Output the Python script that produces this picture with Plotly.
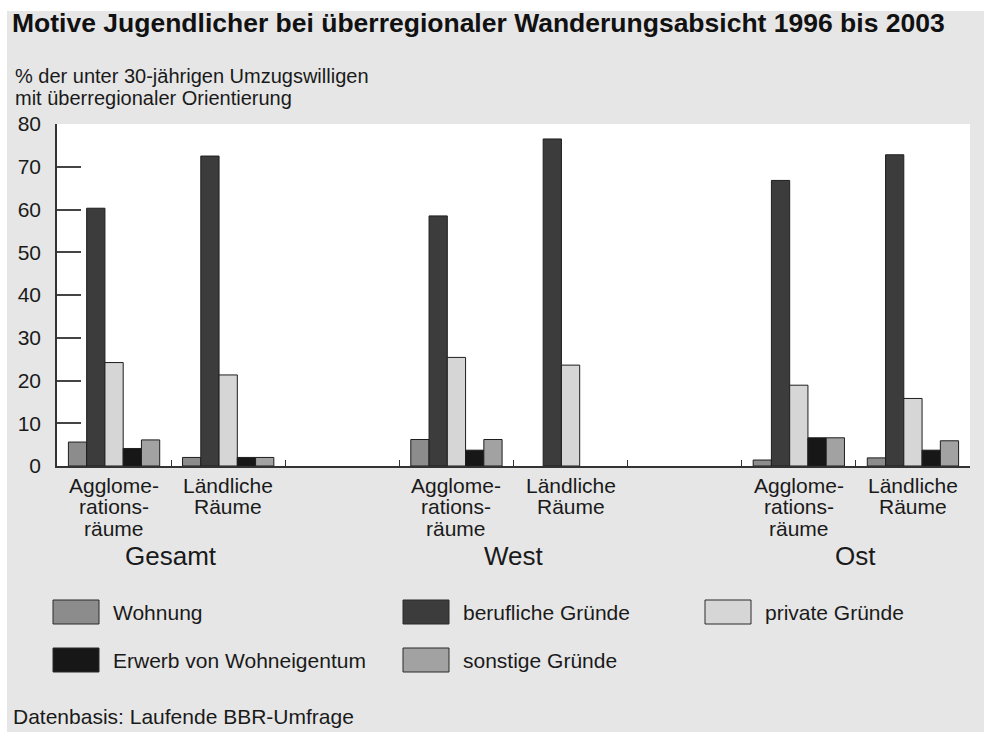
import plotly.graph_objects as go

# ---- data ----
positions = [0, 1, 3, 4, 6, 7]  # category slots (2 and 5 are empty gaps)
category_lines = [["Agglome-", "rations-", "räume"], ["Ländliche", "Räume"],
                  ["Agglome-", "rations-", "räume"], ["Ländliche", "Räume"],
                  ["Agglome-", "rations-", "räume"], ["Ländliche", "Räume"]]
group_labels = ["Gesamt", "West", "Ost"]
group_centers = [0.5, 3.5, 6.5]

series_names = ["Wohnung", "berufliche Gründe", "private Gründe",
                "Erwerb von Wohneigentum", "sonstige Gründe"]
wohnung = [5.6, 2.0, 6.2, None, 1.4, 1.9]
beruflich = [60.3, 72.5, 58.5, 76.5, 66.8, 72.8]
privat = [24.2, 21.3, 25.4, 23.6, 18.9, 15.8]
erwerb = [4.1, 2.0, 3.7, None, 6.6, 3.7]
sonstige = [6.1, 2.0, 6.2, None, 6.6, 5.9]
series_values = [wohnung, beruflich, privat, erwerb, sonstige]
colors = ["#8c8c8c", "#3c3c3c", "#d6d6d6", "#171717", "#a2a2a2"]

yticks = [0, 10, 20, 30, 40, 50, 60, 70, 80]
title_text = "Motive Jugendlicher bei überregionaler Wanderungsabsicht 1996 bis 2003"
axis_title_lines = ["% der unter 30-jährigen Umzugswilligen", "mit überregionaler Orientierung"]
source_text = "Datenbasis: Laufende BBR-Umfrage"

# ---- layout geometry (page pixels) ----
W, H = 984, 732
L, R, T, B = 57, 970, 124, 466
FONT = "Liberation Sans, Arial, sans-serif"
TXT = "#1a1a1a"


def px(x):
    return (x - L) / (R - L)


def py(y):
    return (B - y) / (B - T)


fig = go.Figure()
for name, vals, col in zip(series_names, series_values, colors):
    fig.add_trace(go.Bar(
        x=positions, y=vals, name=name,
        marker=dict(color=col, line=dict(color="#1e1e1e", width=1)),
        showlegend=False, hoverinfo="skip",
    ))

annotations = []
# category labels (one annotation per line for tight line spacing)
for pos, lines in zip(positions, category_lines):
    for i, line in enumerate(lines):
        annotations.append(dict(x=pos, y=py(485 + 21.5 * i), xref="x", yref="paper",
                                text=line, showarrow=False, yanchor="middle",
                                font=dict(size=21, color=TXT, family=FONT)))
# group labels
for c, lab in zip(group_centers, group_labels):
    annotations.append(dict(x=c, y=py(556), xref="x", yref="paper", text=lab,
                            showarrow=False, yanchor="middle",
                            font=dict(size=26, color=TXT, family=FONT)))
# title
annotations.append(dict(x=px(10), y=py(23), xref="paper", yref="paper",
                        text="<b>" + title_text + "</b>",
                        showarrow=False, xanchor="left", yanchor="middle",
                        font=dict(size=26.5, color="#111", family=FONT)))
# axis title
for i, line in enumerate(axis_title_lines):
    annotations.append(dict(x=px(13), y=py(76 + 21.5 * i), xref="paper", yref="paper",
                            text=line, showarrow=False, xanchor="left", yanchor="middle",
                            font=dict(size=20, color=TXT, family=FONT)))
# source
annotations.append(dict(x=px(11), y=py(716), xref="paper", yref="paper",
                        text=source_text,
                        showarrow=False, xanchor="left", yanchor="middle",
                        font=dict(size=21, color=TXT, family=FONT)))

# legend (custom)
legend_items = [(53, 612, 0), (403, 612, 1), (705, 612, 2), (53, 660, 3), (403, 660, 4)]
shapes = []
for x0, yc, idx in legend_items:
    shapes.append(dict(type="rect", xref="paper", yref="paper",
                       x0=px(x0), x1=px(x0 + 46), y0=py(yc - 12), y1=py(yc + 12),
                       fillcolor=colors[idx], line=dict(color="#2a2a2a", width=1)))
    annotations.append(dict(x=px(x0 + 58), y=py(yc), xref="paper", yref="paper",
                            text=series_names[idx], showarrow=False,
                            xanchor="left", yanchor="middle",
                            font=dict(size=21, color=TXT, family=FONT)))

# thin white frame on the top and left edges of the picture
shapes.append(dict(type="rect", xref="paper", yref="paper", layer="above",
                   x0=px(0), x1=px(W), y0=py(0), y1=py(11),
                   fillcolor="#ffffff", line=dict(width=0)))
shapes.append(dict(type="rect", xref="paper", yref="paper", layer="above",
                   x0=px(0), x1=px(7), y0=py(0), y1=py(H),
                   fillcolor="#ffffff", line=dict(width=0)))

fig.update_layout(
    width=W, height=H,
    margin=dict(l=L, r=W - R, t=T, b=H - B),
    paper_bgcolor="#e6e6e6", plot_bgcolor="#ffffff",
    barmode="group", bargap=0.2, bargroupgap=0,
    font=dict(family=FONT, color=TXT),
    xaxis=dict(range=[-0.5, 7.5], tickvals=[0.5, 1.5, 2.5, 3.5, 4.5, 5.5, 6.5, 7.5],
               ticktext=[""] * 8, ticks="inside", ticklen=6, tickcolor="#333",
               showline=True, linecolor="#333", linewidth=1.5, showgrid=False,
               zeroline=False, fixedrange=True),
    yaxis=dict(range=[0, 80], tickvals=yticks, ticks="inside", ticklen=24,
               tickcolor="#444", tickwidth=1.5, showline=True, linecolor="#333",
               linewidth=1.5, showgrid=False, zeroline=False, ticklabelstandoff=10,
               tickfont=dict(size=21, color=TXT, family=FONT), fixedrange=True),
    annotations=annotations, shapes=shapes,
)

fig.write_html("out.html", config={"displayModeBar": False},
               post_script="document.body.style.margin='0';document.body.style.overflow='hidden';")
